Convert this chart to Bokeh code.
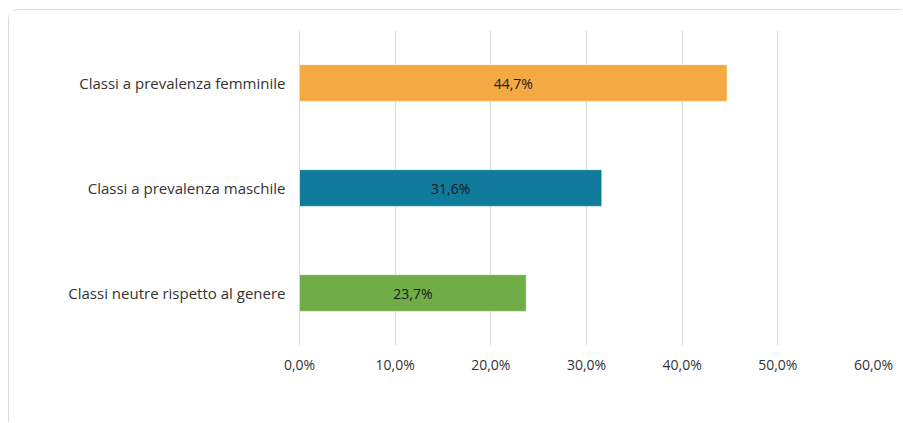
from bokeh.plotting import figure
from bokeh.models import ColumnDataSource, FactorRange, Range1d, FixedTicker, LabelSet
from bokeh.core.properties import value
from bokeh.embed import file_html
from bokeh.resources import INLINE

categories = ["Classi a prevalenza femminile", "Classi a prevalenza maschile", "Classi neutre rispetto al genere"]
values = [44.7, 31.6, 23.7]
bar_colors = ["#F4A942", "#107B9B", "#70AD47"]
value_labels = ["44,7%", "31,6%", "23,7%"]
tick_values = [0, 10, 20, 30, 40, 50, 60]
tick_labels = ["0,0%", "10,0%", "20,0%", "30,0%", "40,0%", "50,0%", "60,0%"]

FONT = "Open Sans"

source = ColumnDataSource(dict(cat=categories, val=values, color=bar_colors, lab=value_labels,
                               mid=[v / 2 for v in values]))

p = figure(width=894, height=413, output_backend="svg", toolbar_location=None,
           y_range=FactorRange(factors=categories[::-1], range_padding=0),
           x_range=Range1d(0, 60),
           min_border_left=290, min_border_right=30, min_border_top=20, min_border_bottom=78,
           margin=(9, 0, 0, 8),
           styles={"border-left": "1px solid #d9d9d9", "border-top": "1px solid #d9d9d9",
                   "border-top-left-radius": "10px"})

p.hbar(y="cat", right="val", left=0, height=0.35, fill_color="color",
       line_color="#ffffff", line_alpha=0.6, line_width=1, source=source)

labels = LabelSet(x="mid", y="cat", text="lab", source=source, text_align="center",
                  text_baseline="middle", text_font=value(FONT), text_font_size="14px",
                  text_color="#1a1a1a")
p.add_layout(labels)

p.outline_line_color = None
p.background_fill_color = "white"
p.border_fill_color = "white"

p.ygrid.grid_line_color = None
p.xgrid.grid_line_color = "#d9d9d9"
p.xgrid.grid_line_width = 1
p.xaxis.ticker = FixedTicker(ticks=tick_values)
p.xaxis.major_label_overrides = {t: l for t, l in zip(tick_values, tick_labels)}
p.xaxis.axis_line_color = None
p.xaxis.major_tick_line_color = None
p.xaxis.major_tick_out = 0
p.xaxis.major_tick_in = 0
p.xaxis.minor_tick_line_color = None
p.xaxis.major_label_standoff = 9
p.xaxis.major_label_text_font = FONT
p.xaxis.major_label_text_font_size = "14px"
p.xaxis.major_label_text_color = "#333333"

p.yaxis.axis_line_color = "#d9d9d9"
p.yaxis.major_tick_line_color = None
p.yaxis.major_tick_out = 0
p.yaxis.major_tick_in = 0
p.yaxis.minor_tick_line_color = None
p.yaxis.major_label_standoff = 14
p.yaxis.major_label_text_font = FONT
p.yaxis.major_label_text_font_size = "15px"
p.yaxis.major_label_text_color = "#333333"

open("out.html", "w").write(file_html(p, INLINE))
